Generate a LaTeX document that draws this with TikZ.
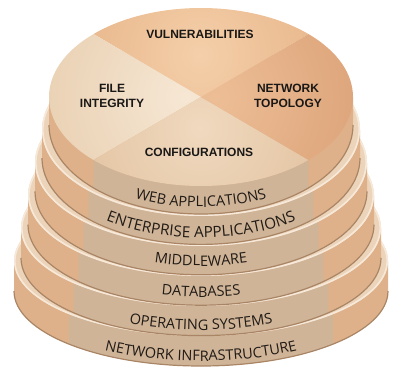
\documentclass[tikz,border=0pt]{standalone}
\usepackage{fontspec}
\setmainfont{Open Sans}
\newfontfamily\topfont{Liberation Sans}
\usetikzlibrary{decorations.text}
\definecolor{sidecol}{HTML}{DEB18A}
\definecolor{stripecol}{HTML}{CFB498}
\definecolor{rimcol}{HTML}{ECD4BA}
\definecolor{rimhi}{HTML}{F7E9D9}
\definecolor{edgecol}{HTML}{A98565}
\definecolor{vulnin}{HTML}{F4CFA9}
\definecolor{vulnout}{HTML}{E9B88D}
\definecolor{filein}{HTML}{F6E7D4}
\definecolor{fileout}{HTML}{E9D0B2}
\definecolor{confin}{HTML}{F0D9BF}
\definecolor{confout}{HTML}{E3C4A2}
\definecolor{netin}{HTML}{EDBE96}
\definecolor{netout}{HTML}{DDA47A}
\definecolor{inkcol}{HTML}{1A1816}
\definecolor{bandink}{HTML}{211B16}
\newcommand\bandfont{\fontsize{14.5}{16}\selectfont}
\newcommand\bandfontwide{\fontsize{15.3}{17}\selectfont}
\tikzset{
  toplabel/.style={font=\topfont\bfseries\fontsize{12}{15}\selectfont, align=center, text=inkcol, inner sep=0pt},
  bandtext/.style={decorate, decoration={text along path, text align=center, text color=bandink, text={|\bandfont|#1}}},
  bandtextwide/.style={decorate, decoration={text along path, text align=center, text color=bandink, text={|\bandfontwide|#1}}},
}
\begin{document}
\begin{tikzpicture}[x=1pt,y=1pt]
\useasboundingbox (0,0) rectangle (397,368);
\foreach \k in {6,5,4,3,2,1}{
  \pgfmathsetmacro\rx{152+7*(\k-1)}
  \pgfmathsetmacro\ry{89-2.8*(\k-1)}
  \pgfmathsetmacro\cy{368-(186+30*(\k-1)-\ry)}
  \pgfmathsetmacro\by{\cy-28-0.4*(\k-1)}
  \coordinate (T\k) at (201,\cy);
  \coordinate (B\k) at (201,\by);
  % side
  \fill[sidecol] ([shift={(T\k)}]180:\rx pt and \ry pt) -- ([shift={(B\k)}]180:\rx pt and \ry pt)
     arc[start angle=180,end angle=360,x radius=\rx,y radius=\ry]
     -- ([shift={(T\k)}]0:\rx pt and \ry pt) -- cycle;
  % front stripe
  \fill[stripecol] ([shift={(T\k)}]225:\rx pt and \ry pt) -- ([shift={(B\k)}]225:\rx pt and \ry pt)
     arc[start angle=225,end angle=315,x radius=\rx,y radius=\ry]
     -- ([shift={(T\k)}]315:\rx pt and \ry pt)
     arc[start angle=315,end angle=225,x radius=\rx,y radius=\ry] -- cycle;
  % bottom edge
  \draw[edgecol,line width=1.2] ([shift={(B\k)}]180:\rx pt and \ry pt)
     arc[start angle=180,end angle=360,x radius=\rx,y radius=\ry];
  \ifnum\k>1
    \fill[rimcol] (T\k) ellipse[x radius=\rx,y radius=\ry];
    \draw[rimhi,line width=1.6] (T\k) ellipse[x radius=\rx-0.8,y radius=\ry-0.8];
  \else
    \begin{scope}
      \clip (T1) -- ([shift={(T1)}]45:\rx pt and \ry pt) arc[start angle=45,end angle=135,x radius=\rx,y radius=\ry] -- cycle;
      \shade[inner color=vulnin,outer color=vulnout] (200,313) circle (120);
    \end{scope}
    \begin{scope}
      \clip (T1) -- ([shift={(T1)}]135:\rx pt and \ry pt) arc[start angle=135,end angle=225,x radius=\rx,y radius=\ry] -- cycle;
      \shade[inner color=filein,outer color=fileout] (185,271) circle (150);
    \end{scope}
    \begin{scope}
      \clip (T1) -- ([shift={(T1)}]225:\rx pt and \ry pt) arc[start angle=225,end angle=315,x radius=\rx,y radius=\ry] -- cycle;
      \shade[inner color=confin,outer color=confout] (200,240) circle (130);
    \end{scope}
    \begin{scope}
      \clip (T1) -- ([shift={(T1)}]-45:\rx pt and \ry pt) arc[start angle=-45,end angle=45,x radius=\rx,y radius=\ry] -- cycle;
      \shade[inner color=netin,outer color=netout] (215,271) circle (150);
    \end{scope}
  \fi
}
% band labels
\path[bandtext=WEB APPLICATIONS] ([shift={(201,250)}]200:152 and 89) arc[start angle=200,end angle=340,x radius=152,y radius=89];
\path[bandtextwide=ENTERPRISE APPLICATIONS] ([shift={(201,216.6)}]200:159 and 86.2) arc[start angle=200,end angle=340,x radius=159,y radius=86.2];
\path[bandtext=MIDDLEWARE] ([shift={(201,185.4)}]200:166 and 83.4) arc[start angle=200,end angle=340,x radius=166,y radius=83.4];
\path[bandtext=DATABASES] ([shift={(201,151.6)}]200:173 and 80.6) arc[start angle=200,end angle=340,x radius=173,y radius=80.6];
\path[bandtext=OPERATING SYSTEMS] ([shift={(201,115.8)}]200:180 and 77.8) arc[start angle=200,end angle=340,x radius=180,y radius=77.8];
\path[bandtext=NETWORK INFRASTRUCTURE] ([shift={(201,82)}]200:187 and 75) arc[start angle=200,end angle=340,x radius=187,y radius=75];
% pie labels
\node[toplabel] (vuln) at (200,334) {VULNERABILITIES};
\node[toplabel] (file) at (112,272) {FILE\\INTEGRITY};
\node[toplabel] (net) at (288,272) {NETWORK\\TOPOLOGY};
\node[toplabel] (conf) at (199,215.5) {CONFIGURATIONS};
\end{tikzpicture}
\end{document}
